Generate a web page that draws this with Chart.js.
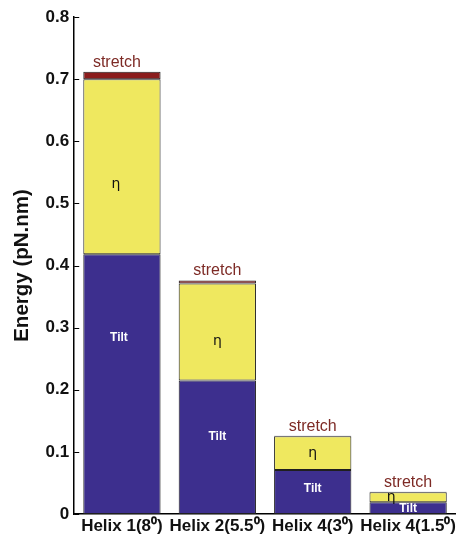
<!DOCTYPE html>
<html>
<head>
<meta charset="utf-8">
<script src="https://cdn.jsdelivr.net/npm/chart.js@4/dist/chart.umd.min.js"></script>
<style>
  html, body { margin: 0; padding: 0; background: #fff; }
  #wrap { width: 460px; height: 539px; }
</style>
</head>
<body>
<div id="wrap"><canvas id="chart" width="460" height="539"></canvas></div>
<script>
// data
const categories = ['Helix 1(8\u2070)', 'Helix 2(5.5\u2070)', 'Helix 4(3\u2070)', 'Helix 4(1.5\u2070)'];
const tiltValues = [0.418, 0.215, 0.071, 0.019];
const etaValues = [0.282, 0.156, 0.054, 0.016];
const stretchValues = [0.012, 0.005, 0.001, 0.001];
const yTicks = [0, 0.1, 0.2, 0.3, 0.4, 0.5, 0.6, 0.7, 0.8];

const FONT = 'Liberation Sans, Arial, Helvetica, sans-serif';

// segment labels (Tilt, eta, stretch) drawn through the scales
const segmentLabels = {
  id: 'segmentLabels',
  afterDatasetsDraw(chart) {
    const ctx = chart.ctx;
    const y = chart.scales.y;
    ctx.save();
    ctx.textAlign = 'center';
    ctx.textBaseline = 'middle';
    categories.forEach((c, i) => {
      const bar = chart.getDatasetMeta(0).data[i];
      const x = bar.x;
      const tiltTop = y.getPixelForValue(tiltValues[i]);
      const base = y.getPixelForValue(0);
      const etaTop = y.getPixelForValue(tiltValues[i] + etaValues[i]);
      const top = y.getPixelForValue(tiltValues[i] + etaValues[i] + stretchValues[i]);

      // Tilt
      const tiltH = base - tiltTop;
      let ty;
      if (tiltH > 200) ty = tiltTop + tiltH * 0.32;
      else if (tiltH > 30) ty = tiltTop + tiltH * 0.42;
      else ty = tiltTop + tiltH / 2 + 1;
      ctx.fillStyle = '#ffffff';
      ctx.font = 'bold 12px ' + FONT;
      ctx.fillText('Tilt', x - (i === 0 ? 3 : 0), ty);

      // eta
      const etaH = tiltTop - etaTop;
      ctx.fillStyle = '#111';
      ctx.font = '14px DejaVu Sans, ' + FONT;
      const ex = etaH < 20 ? bar.x - bar.width * 0.22 : x - (i === 0 ? 6 : 0);
      const ey = etaH > 60 ? etaTop + etaH * 0.6 : etaTop + etaH / 2;
      ctx.fillText('\u03b7', ex, ey);

      // stretch
      ctx.fillStyle = '#7d2a25';
      ctx.font = '16px ' + FONT;
      ctx.textBaseline = 'alphabetic';
      ctx.fillText('stretch', x - (i === 0 ? 5 : 0), top - 5);
      ctx.textBaseline = 'middle';
    });
    ctx.restore();
  }
};

// MATLAB-style inward ticks on the y axis
const inwardTicks = {
  id: 'inwardTicks',
  afterDraw(chart) {
    const ctx = chart.ctx;
    const y = chart.scales.y;
    const left = chart.chartArea.left;
    ctx.save();
    ctx.strokeStyle = '#000';
    ctx.lineWidth = 1;
    yTicks.forEach(v => {
      const py = Math.round(y.getPixelForValue(v)) + 0.5;
      ctx.beginPath();
      ctx.moveTo(left, py);
      ctx.lineTo(left + 5, py);
      ctx.stroke();
    });
    ctx.restore();
  }
};

const dsCommon = {
  borderColor: '#1f1f1f',
  borderWidth: 1,
  borderSkipped: false,
  barPercentage: 0.81,
  categoryPercentage: 1.0
};

new Chart(document.getElementById('chart'), {
  type: 'bar',
  data: {
    labels: categories,
    datasets: [
      Object.assign({ label: 'Tilt', data: tiltValues, backgroundColor: '#3d2f8e' }, dsCommon),
      Object.assign({ label: 'eta', data: etaValues, backgroundColor: '#efe85f' }, dsCommon),
      Object.assign({ label: 'stretch', data: stretchValues, backgroundColor: '#8b1c1c' }, dsCommon)
    ]
  },
  options: {
    responsive: false,
    animation: false,
    layout: { padding: { top: 17, right: 0, left: 10, bottom: 0 } },
    plugins: {
      legend: { display: false },
      tooltip: { enabled: false }
    },
    scales: {
      x: {
        stacked: true,
        grid: { display: false, drawTicks: false },
        border: { display: true, color: '#000', width: 1.5 },
        ticks: {
          color: '#111',
          padding: 4,
          maxRotation: 0,
          autoSkip: false,
          font: { family: FONT, size: 17, weight: 'bold', lineHeight: 1.0 }
        }
      },
      y: {
        stacked: true,
        min: 0,
        max: 0.8,
        afterBuildTicks(axis) {
          axis.ticks = yTicks.map(v => ({ value: v }));
        },
        grid: { display: false, drawTicks: false },
        border: { display: true, color: '#000', width: 1.5 },
        ticks: {
          color: '#111',
          padding: 5,
          font: { family: FONT, size: 17, weight: 'bold' },
          callback: v => (v === 0 ? '0' : v.toFixed(1))
        },
        title: {
          display: true,
          text: 'Energy (pN.nm)',
          color: '#111',
          padding: { top: 0, bottom: 6 },
          font: { family: FONT, size: 20.5, weight: 'bold' }
        }
      }
    }
  },
  plugins: [segmentLabels, inwardTicks]
});
</script>
</body>
</html>
